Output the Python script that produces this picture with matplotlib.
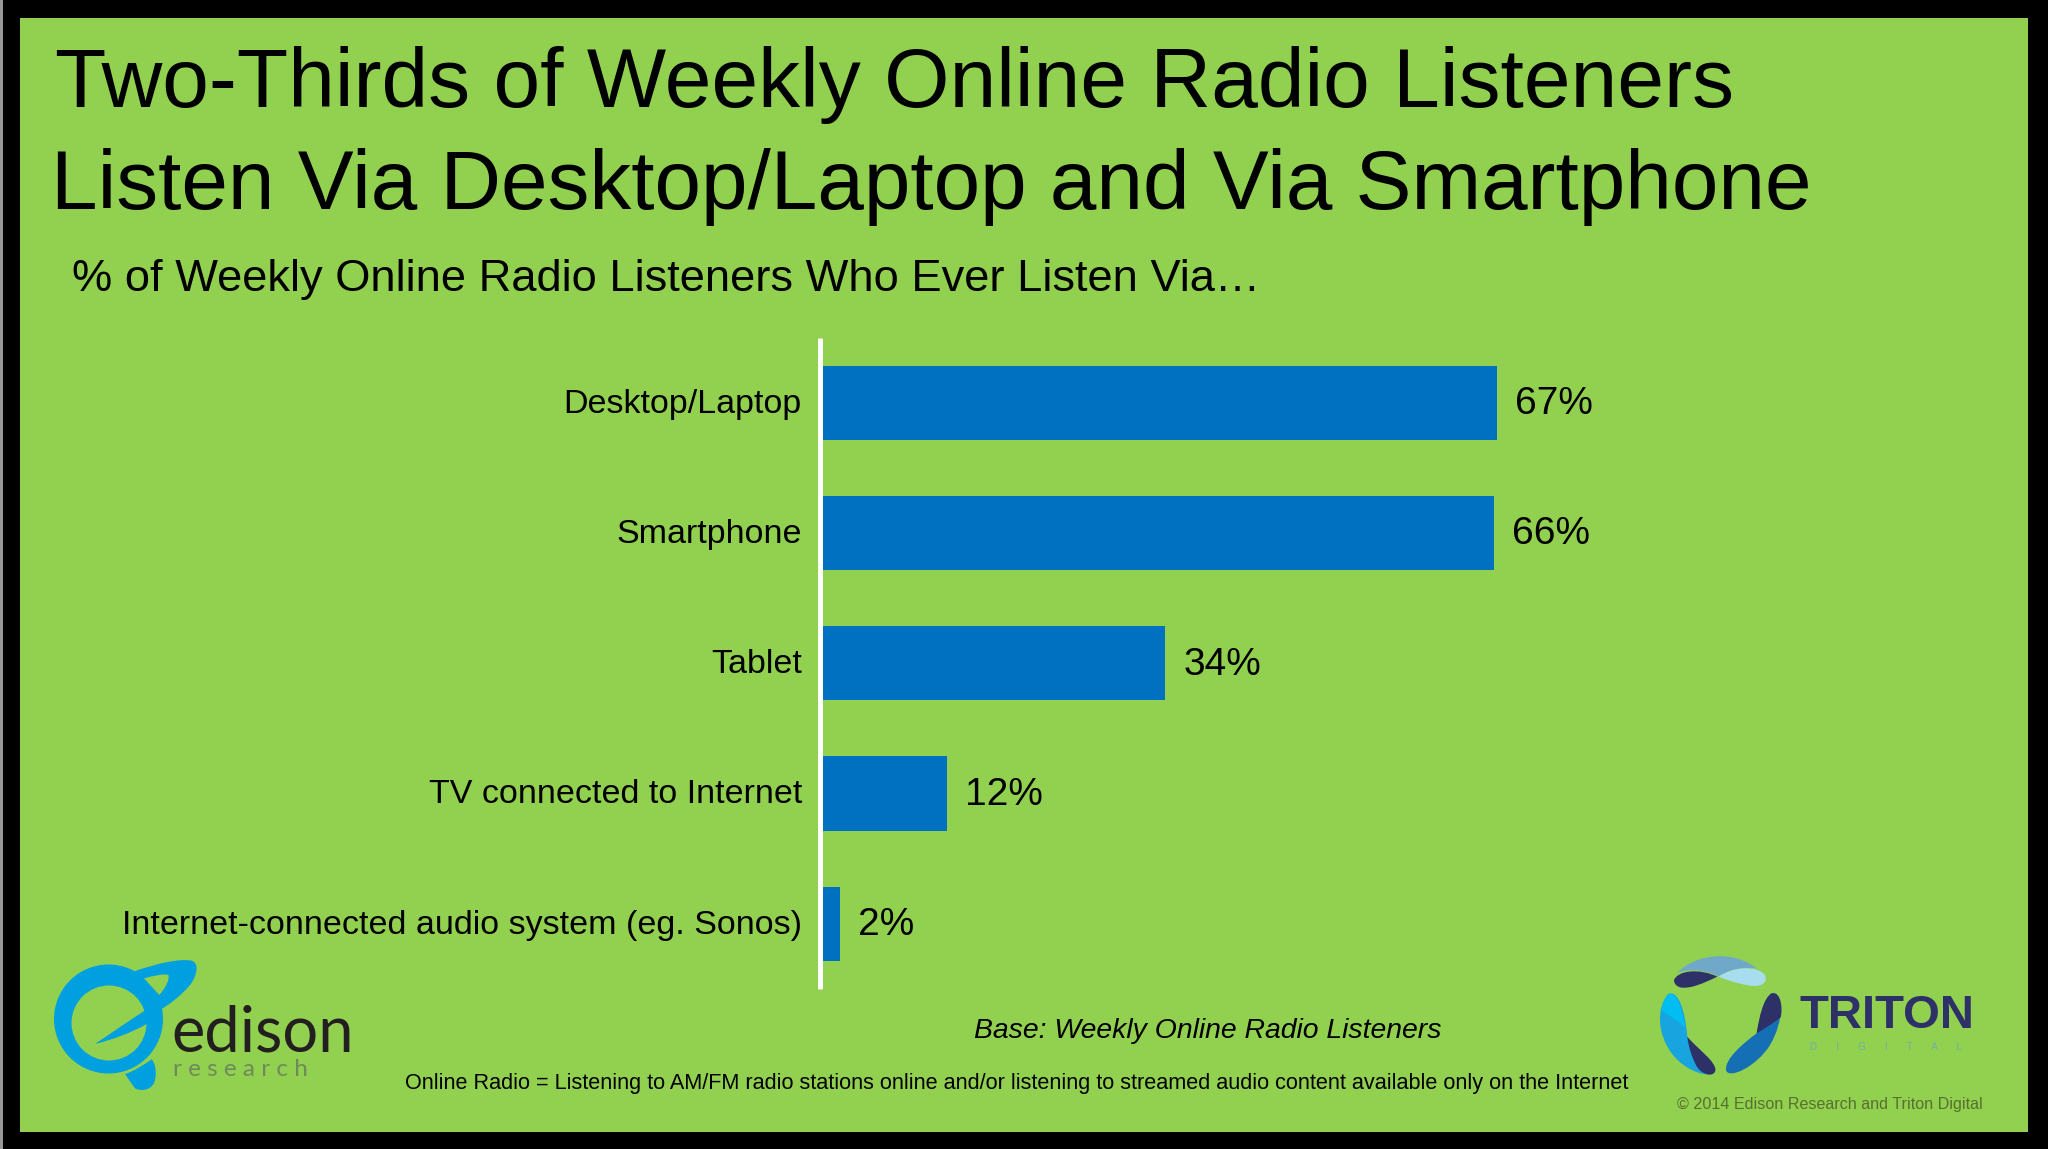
import matplotlib
matplotlib.use("Agg")
import matplotlib.pyplot as plt
from matplotlib.patches import Circle, PathPatch, Rectangle
from matplotlib.path import Path
from matplotlib.transforms import ScaledTranslation

W, H = 2048, 1149

categories = ["Desktop/Laptop", "Smartphone", "Tablet", "TV connected to Internet",
              "Internet-connected audio system (eg. Sonos)"]
values = [67, 66.7, 34.2, 12.6, 2]
value_labels = ["67%", "66%", "34%", "12%", "2%"]

title_lines = ["Two-Thirds of Weekly Online Radio Listeners",
               "Listen Via Desktop/Laptop and Via Smartphone"]
subtitle = "% of Weekly Online Radio Listeners Who Ever Listen Via…"
base_note = "Base: Weekly Online Radio Listeners"
footnote = "Online Radio = Listening to AM/FM radio stations online and/or listening to streamed audio content available only on the Internet"
copyright_note = "© 2014 Edison Research and Triton Digital"

GREEN = "#92D050"
BLUE = "#0070C0"

plt.rcParams["font.family"] = ["Liberation Sans", "DejaVu Sans"]

fig = plt.figure(figsize=(W / 100, H / 100), dpi=100, facecolor="black")

# overlay in pixel coordinates for frame, headings and logos
bg = fig.add_axes([0, 0, 1, 1])
bg.set_xlim(0, W)
bg.set_ylim(H, 0)
bg.axis("off")
bg.add_patch(Rectangle((20, 18), 2008, 1114, fc=GREEN, ec="none"))
bg.add_patch(Rectangle((0, 0), 2.5, H, fc="#999999", ec="none"))

bg.text(55, 85, title_lines[0], fontsize=60.5, va="center", ha="left", color="black")
bg.text(51, 187, title_lines[1], fontsize=60.3, va="center", ha="left", color="black")
bg.text(72, 280, subtitle, fontsize=32.6, va="center", ha="left", color="black")
bg.text(974, 1031, base_note, fontsize=20.4, style="italic", va="center", ha="left", color="black")
bg.text(405, 1083, footnote, fontsize=15.6, va="center", ha="left", color="black")
bg.text(1677, 1105, copyright_note, fontsize=11.6, va="center", ha="left", color="#56702f")

# bars
left, right = 820, 1830
top, bottom = 337.5, 989
ax = fig.add_axes([left / W, 1 - bottom / H, (right - left) / W, (bottom - top) / H])
ax.patch.set_alpha(0)
bars = ax.barh(range(len(categories)), values, height=0.57, color=BLUE)
ax.set_xlim(0, 100)
ax.set_ylim(len(categories) - 0.5, -0.5)
ax.set_yticks(range(len(categories)))
ax.set_yticklabels(categories, fontsize=24.5)
ax.set_xticks([])
ax.tick_params(axis="y", length=0, pad=13)
for s in ["top", "right", "bottom"]:
    ax.spines[s].set_visible(False)
ax.spines["left"].set_color("white")
ax.spines["left"].set_linewidth(3.6)
ax.spines["left"].set_capstyle("butt")

# labels sit a little above the bar centre in the original
shift = ScaledTranslation(0, 1.5 / 72, fig.dpi_scale_trans)
for lab in ax.get_yticklabels():
    lab.set_transform(lab.get_transform() + shift)

for i, (v, lab) in enumerate(zip(values, value_labels)):
    ax.annotate(lab, (v, i), xytext=(13, -1), textcoords="offset points",
                fontsize=28, va="center", ha="left", color="black")


def curve(ox, oy, pts, **kw):
    # pts are in 3x zoom coordinates: first the start, then triples of bezier points
    codes = [Path.MOVETO] + [Path.CURVE4] * (len(pts) - 1)
    xy = [(ox + x / 3, oy + y / 3) for x, y in pts]
    p = PathPatch(Path(xy, codes), ec="none", **kw)
    bg.add_patch(p)


# Edison logo
EB = "#00A0E0"
bg.add_patch(Circle((108.5, 1019), 54.5, fc=EB, ec="none"))
bg.add_patch(Circle((109, 1023), 37.5, fc=GREEN, ec="none"))
curve(0, 920, [(400, 155), (470, 130), (540, 115), (575, 122),
               (600, 130), (590, 170), (570, 195),
               (550, 220), (510, 255), (470, 275),
               (440, 240), (420, 190), (400, 155)], fc=EB)
curve(0, 920, [(432, 175), (460, 168), (490, 160), (505, 165),
               (510, 180), (495, 205), (478, 225),
               (460, 205), (445, 190), (432, 175)], fc=GREEN)
curve(0, 920, [(285, 372), (340, 335), (390, 300), (445, 265),
               (450, 280), (445, 295), (440, 312),
               (390, 340), (340, 358), (285, 372)], fc=EB)
curve(0, 920, [(375, 462), (400, 455), (430, 435), (455, 418),
               (470, 435), (470, 470), (462, 490),
               (450, 510), (425, 515), (405, 505),
               (395, 490), (385, 478), (375, 462)], fc=EB)
bg.text(171, 1033, "edison", fontsize=45.5, family="Lato", color="#231f20", va="center", ha="left")
bg.text(173, 1069, "r e s e a r c h", fontsize=17.5, family="Lato", color="#6e8a5c", va="center", ha="left")

# Triton logo
OX, OY = 1600, 920
curve(OX, OY, [(232, 158), (290, 100), (400, 90), (470, 145),
               (420, 140), (385, 150), (355, 170),
               (320, 150), (270, 145), (232, 158)], fc="#6FA8C8")
curve(OX, OY, [(355, 170), (400, 140), (470, 135), (495, 165),
               (505, 190), (480, 205), (440, 195),
               (410, 190), (380, 180), (355, 170)], fc="#A8DDF0")
curve(OX, OY, [(222, 180), (235, 150), (300, 145), (352, 170),
               (310, 190), (270, 208), (240, 202),
               (228, 198), (222, 190), (222, 180)], fc="#2E3168")
curve(OX, OY, [(205, 222), (235, 210), (255, 270), (262, 350),
               (285, 400), (350, 430), (345, 455),
               (335, 475), (260, 460), (215, 400),
               (170, 340), (170, 260), (205, 222)], fc="#18A5DF")
curve(OX, OY, [(205, 222), (225, 215), (245, 250), (256, 325),
               (235, 300), (200, 285), (185, 270),
               (188, 250), (195, 232), (205, 222)], fc="#00BDF2")
curve(OX, OY, [(262, 350), (290, 385), (350, 425), (346, 452),
               (340, 475), (300, 462), (288, 435),
               (275, 410), (265, 380), (262, 350)], fc="#2E3168")
curve(OX, OY, [(515, 220), (550, 210), (555, 300), (510, 375),
               (470, 440), (385, 480), (378, 450),
               (375, 415), (430, 370), (470, 340),
               (480, 290), (490, 235), (515, 220)], fc="#146FB5")
curve(OX, OY, [(515, 220), (545, 215), (548, 270), (542, 292),
               (520, 310), (495, 325), (470, 340),
               (478, 290), (490, 235), (515, 220)], fc="#2E3168")

bg.text(1800, 1016, "TRITON", fontsize=34, weight="bold", color="#2E3168", va="center", ha="left")
bg.text(1810, 1047, "D       I       G       I       T       A       L", fontsize=7, color="#6FB0A8", va="center", ha="left")

fig.savefig("out.png", dpi=100, facecolor="black")
